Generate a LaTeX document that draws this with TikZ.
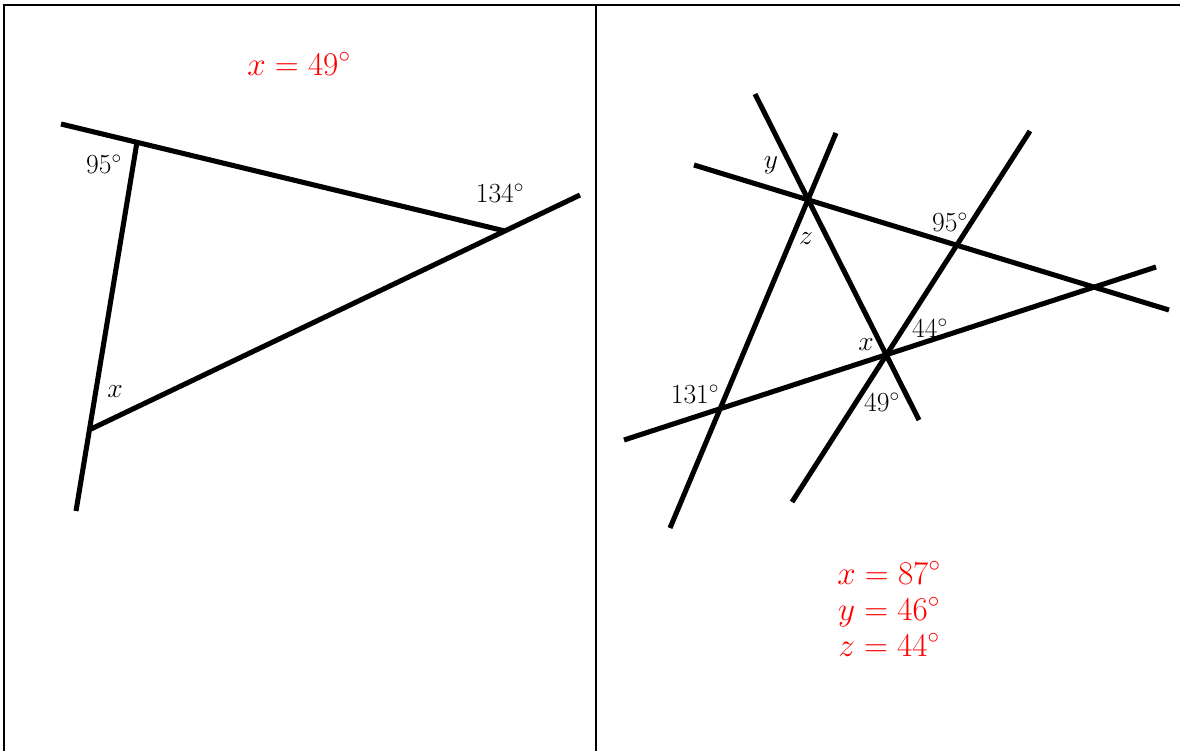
\documentclass[tikz,border=0pt]{standalone}
\usepackage{tikz}
\begin{document}
\begin{tikzpicture}[x=0.75pt,y=-0.75pt,
  geoline/.style={line width=3.8pt,line cap=butt},
  frame/.style={line width=1.6pt},
  lbl/.style={inner sep=0pt,font=\fontsize{20}{24}\selectfont},
  ans/.style={inner sep=0pt,anchor=base,text=red,font=\fontsize{26}{30}\selectfont}]
\useasboundingbox (0,0) rectangle (1180,751);
% frame
\coordinate (fTL) at (4,751);
\coordinate (fTT) at (4,5);
\coordinate (fTR) at (1180,5);
\coordinate (mT) at (596,5);
\coordinate (mB) at (596,751);
\draw[frame] (fTL) -- (fTT) -- (fTR);
\draw[frame] (mT) -- (mB);
% left panel
\coordinate (a1) at (61,124);
\coordinate (a2) at (505,231);
\coordinate (b1) at (91,429);
\coordinate (b2) at (580,195);
\coordinate (c1) at (137,142);
\coordinate (c2) at (76,511);
\draw[geoline] (a1) -- (a2);
\draw[geoline] (b1) -- (b2);
\draw[geoline] (c1) -- (c2);
\node[lbl] (l95) at (104,164) {$95^{\circ}$};
\node[lbl] (l134) at (500,193) {$134^{\circ}$};
\node[lbl] (lx) at (115,392) {$x$};
\node[ans] (ansL) at (299,75) {$x=49^{\circ}$};
% right panel
\coordinate (A1) at (755,94);
\coordinate (A2) at (919,420);
\coordinate (B1) at (836,133);
\coordinate (B2) at (670,528);
\coordinate (C1) at (1030,131);
\coordinate (C2) at (792,502);
\coordinate (D1) at (694,165);
\coordinate (D2) at (1169,310);
\coordinate (E1) at (624,440);
\coordinate (E2) at (1156,267);
\draw[geoline] (A1) -- (A2);
\draw[geoline] (B1) -- (B2);
\draw[geoline] (C1) -- (C2);
\draw[geoline] (D1) -- (D2);
\draw[geoline] (E1) -- (E2);
\node[lbl] (ry) at (771,165) {$y$};
\node[lbl] (rz) at (806,239) {$z$};
\node[lbl] (r95) at (950,222) {$95^{\circ}$};
\node[lbl] (r44) at (930,328) {$44^{\circ}$};
\node[lbl] (rx) at (866,345) {$x$};
\node[lbl] (r131) at (695,394) {$131^{\circ}$};
\node[lbl] (r49) at (882,402) {$49^{\circ}$};
\node[ans] (ansx) at (889,584) {$x=87^{\circ}$};
\node[ans] (ansy) at (889,620) {$y=46^{\circ}$};
\node[ans] (ansz) at (889,656) {$z=44^{\circ}$};
\end{tikzpicture}
\end{document}
